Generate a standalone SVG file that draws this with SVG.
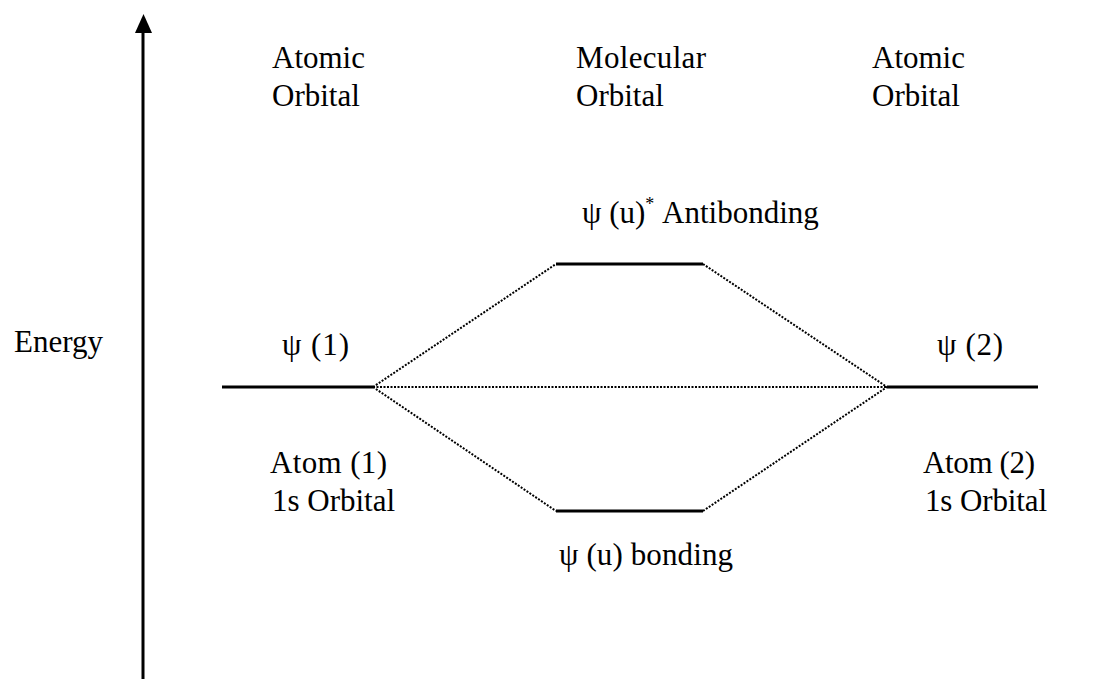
<svg xmlns="http://www.w3.org/2000/svg" width="1113" height="679" viewBox="0 0 1113 679">
  <style>
    text { font-family: "Liberation Serif", "Times New Roman", serif; fill: #000; font-size: 31px; }
    .level { stroke: #000; stroke-width: 3; fill: none; }
    .mix { stroke: #000; stroke-width: 2; stroke-dasharray: 2 1.5; fill: none; }
    .axis { stroke: #000; stroke-width: 3; fill: none; }
  </style>
  <rect width="1113" height="679" fill="#fff"/>

  <!-- energy axis -->
  <g id="axis">
    <line class="axis" x1="143" y1="679" x2="143" y2="30"/>
    <path d="M135,33 L143.5,14 L152,33 Z" fill="#000"/>
    <text x="14" y="352" font-size="37">Energy</text>
  </g>

  <!-- column headings -->
  <g id="heading-left">
    <text x="272" y="68" textLength="93">Atomic</text>
    <text x="272" y="106">Orbital</text>
  </g>
  <g id="heading-middle">
    <text x="576" y="68" textLength="130">Molecular</text>
    <text x="576" y="106">Orbital</text>
  </g>
  <g id="heading-right">
    <text x="872" y="68" textLength="93">Atomic</text>
    <text x="872" y="106">Orbital</text>
  </g>

  <!-- mixing connectors -->
  <g id="connectors">
    <line class="mix" x1="373" y1="387" x2="556" y2="264"/>
    <line class="mix" x1="703" y1="264" x2="887" y2="387"/>
    <line class="mix" x1="373" y1="387" x2="887" y2="387"/>
    <line class="mix" x1="373" y1="387" x2="556" y2="511"/>
    <line class="mix" x1="703" y1="511" x2="887" y2="387"/>
  </g>

  <!-- atom 1 level -->
  <g id="atom1">
    <line class="level" x1="222" y1="387" x2="373" y2="387"/>
    <text x="282" y="355" textLength="67">ψ (1)</text>
    <text x="270" y="473" textLength="117">Atom (1)</text>
    <text x="272" y="511" textLength="123">1s Orbital</text>
  </g>

  <!-- atom 2 level -->
  <g id="atom2">
    <line class="level" x1="887" y1="387" x2="1038" y2="387"/>
    <text x="937" y="355" textLength="66">ψ (2)</text>
    <text x="923" y="473" textLength="112">Atom (2)</text>
    <text x="925" y="511" textLength="122">1s Orbital</text>
  </g>

  <!-- antibonding level -->
  <g id="antibonding">
    <line class="level" x1="556" y1="264" x2="703" y2="264"/>
    <text x="582" y="223">ψ (u)<tspan font-size="18" dy="-13">*</tspan><tspan dy="13"> Antibonding</tspan></text>
  </g>

  <!-- bonding level -->
  <g id="bonding">
    <line class="level" x1="556" y1="511" x2="703" y2="511"/>
    <text x="559" y="565" textLength="174">ψ (u) bonding</text>
  </g>
</svg>
